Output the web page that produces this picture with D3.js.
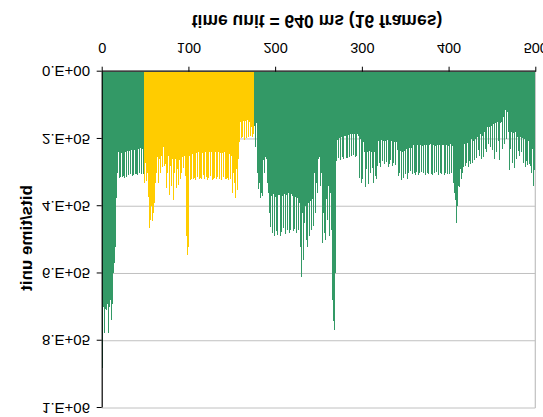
<!DOCTYPE html>
<html><head><meta charset="utf-8">
<script src="https://cdn.jsdelivr.net/npm/d3@7"></script>
<style>html,body{margin:0;padding:0;background:#fff;}svg{display:block;}</style>
</head><body>
<script>
// bits per time unit, in thousands (k bits), one value per time unit 0..499
const bitsK = [
881,860,700,777,705,708,690,777,700,738,680,738,690,600,570,521,382,376,302,240,
316,312,242,314,238,310,315,240,312,236,308,310,235,305,234,309,306,232,304,230,303,307,230,302,228,305,300,229,304,
330,270,325,300,372,420,465,440,400,445,420,391,380,330,300,255,330,260,300,250,320,282,
225,280,275,346,300,330,250,367,280,340,260,381,300,370,260,345,290,337,263,320,250,300,255,285,250,310,490,545,560,520,
250,322,318,245,320,240,316,321,243,312,240,318,315,238,320,242,308,319,240,314,236,321,317,240,310,238,322,318,241,315,239,320,312,240,318,242,316,322,243,314,240,318,
320,245,316,322,244,318,250,360,300,391,330,375,290,352,260,210,
200,150,198,195,148,203,146,196,200,145,194,150,190,164,194,170,185,
160,224,153,300,350,330,352,376,360,370,262,300,255,320,260,330,362,420,
462,370,480,470,365,490,372,475,485,368,470,366,488,478,370,465,364,482,476,368,471,362,480,470,365,478,370,475,468,372,480,376,470,478,390,520,
610,420,560,450,530,400,500,520,390,490,385,470,500,380,460,300,420,330,362,260,320,253,340,300,510,420,480,330,500,380,440,340,490,360,470,590,680,740,768,600,
265,203,260,258,196,262,194,255,260,192,253,190,258,256,188,254,186,250,252,184,248,185,253,250,186,252,190,
315,200,331,320,210,325,238,343,290,240,335,236,300,340,238,285,330,240,310,320,235,
280,205,270,283,204,265,206,278,275,205,268,203,282,273,206,264,205,280,270,208,276,210,290,
232,310,300,235,322,238,295,315,236,305,230,318,300,228,312,296,226,
305,218,300,307,219,298,217,306,302,218,299,220,304,300,217,307,218,301,305,219,298,216,303,306,218,300,220,305,299,217,307,218,302,304,219,300,217,306,301,218,303,220,300,305,216,302,222,330,
360,381,420,450,400,340,342,290,320,230,300,283,
215,280,270,212,283,208,265,275,200,270,
205,263,240,200,258,195,233,250,
185,260,215,190,255,180,230,240,
165,230,215,164,225,162,233,
155,260,200,153,240,150,205,262,152,210,150,230,
134,215,114,200,120,210,
180,292,230,178,270,183,215,285,180,
260,195,235,250,194,263,240,196,
270,200,283,265,203,278,205,275,280,
300,230,340,352,292
];
const highlightRange = [49, 175];           // time units drawn in the highlight colour
const xTicks = [0, 100, 200, 300, 400, 500];
const yTicks = [0, 200000, 400000, 600000, 800000, 1000000];
const yTickLabels = ["0.E+00", "2.E+05", "4.E+05", "6.E+05", "8.E+05", "1.E+06"];
const xTitle = "time unit = 640 ms (16  frames)";
const yTitle = "bits/time unit";

const W = 543, H = 417;
const GREEN = "#339966", GOLD = "#FFCC00";
const svg = d3.select("body").append("svg").attr("width", W).attr("height", H);
// chart is drawn upright, then mirrored vertically as in the reference
const g = svg.append("g").attr("transform", `translate(0,${H}) scale(1,-1)`);

const x = d3.scaleLinear().domain([0, 500]).range([101.7, 535.3]);
const y = d3.scaleLinear().domain([0, 1000000]).range([345.3, 9]);

// gridlines
g.append("g").selectAll("line").data(yTicks.slice(1)).join("line")
  .attr("x1", x(0)).attr("x2", x(500))
  .attr("y1", d => y(d)).attr("y2", d => y(d))
  .attr("stroke", "#c0c0c0").attr("stroke-width", 1);
// right border
g.append("line").attr("x1", x(500)).attr("x2", x(500))
  .attr("y1", y(0)).attr("y2", y(1000000))
  .attr("stroke", "#c0c0c0").attr("stroke-width", 1.2);

// bars
g.append("g").attr("shape-rendering", "crispEdges")
  .selectAll("rect").data(bitsK).join("rect")
  .attr("x", (d, i) => x(i))
  .attr("width", (d, i) => x(i + 1) - x(i))
  .attr("y", d => y(d * 1000))
  .attr("height", d => y(0) - y(d * 1000))
  .attr("fill", (d, i) => (i >= highlightRange[0] && i <= highlightRange[1]) ? GOLD : GREEN);

// axes
const xAxis = g.append("g").attr("transform", `translate(0,${y(0)})`)
  .call(d3.axisBottom(x).tickValues(xTicks).tickFormat(d3.format("d")).tickSize(5).tickSizeOuter(0));
const yAxis = g.append("g").attr("transform", `translate(${x(0)},0)`)
  .call(d3.axisLeft(y).tickValues(yTicks).tickFormat((d, i) => yTickLabels[i]).tickSize(5).tickSizeOuter(0));
[xAxis, yAxis].forEach(a => {
  a.select(".domain").attr("stroke", "#000").attr("stroke-width", 1.2);
  a.selectAll(".tick line").attr("stroke", "#000");
  a.selectAll("text").attr("fill", "#000").attr("font-family", "Liberation Sans, Arial, sans-serif");
});
xAxis.selectAll("text").attr("font-size", 14.5).attr("dy", null).attr("y", 28.8);
yAxis.selectAll("text").attr("font-size", 15).attr("x", -11.7);

// titles
g.append("text").attr("x", 317).attr("y", 402)
  .attr("text-anchor", "middle").attr("font-family", "Liberation Sans, Arial, sans-serif")
  .attr("font-weight", "bold").attr("font-size", 17.5).text(xTitle);
g.append("text").attr("transform", "translate(32,179) rotate(-90)")
  .attr("text-anchor", "middle").attr("font-family", "Liberation Sans, Arial, sans-serif")
  .attr("font-weight", "bold").attr("font-size", 17).text(yTitle);
</script>
</body></html>
